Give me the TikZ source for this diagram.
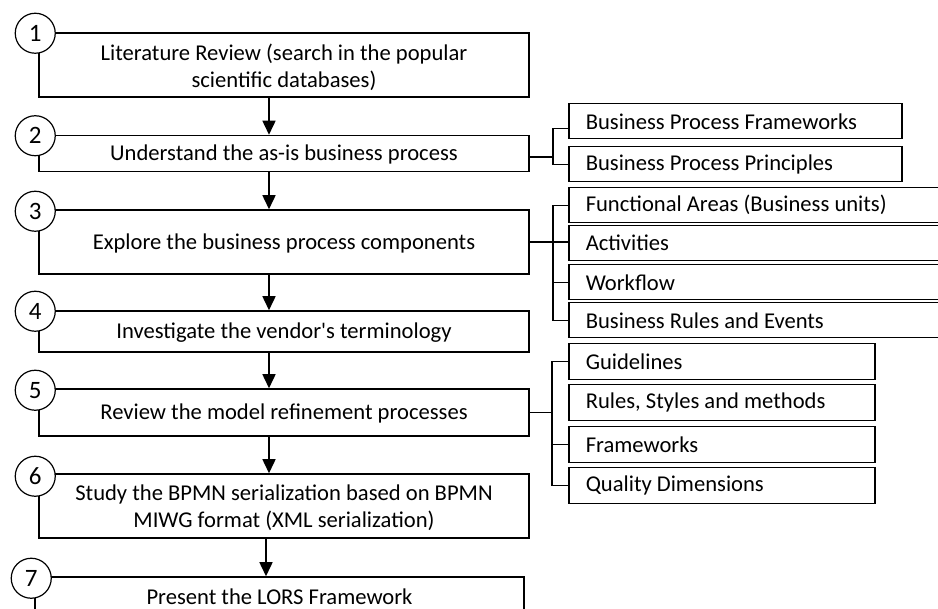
\documentclass[tikz,border=0pt]{standalone}
\usepackage{fontspec}
\setmainfont{Carlito}[Ligatures=TeXOff]
\usetikzlibrary{arrows.meta}

\begin{document}
\begin{tikzpicture}[x=1pt,y=-1pt,
    every node/.style={font=\fontsize{22.6}{27}\selectfont},
    stage/.style={draw,line width=1.5pt,minimum width=490pt,align=center,inner sep=0pt},
    oneline/.style={text height=15pt,text depth=0pt},
    num/.style={draw,circle,fill=white,line width=1.2pt,minimum size=40pt,inner sep=0pt,
      font=\fontsize{25}{27}\selectfont},
    item/.style={draw,line width=1.5pt,anchor=north west,align=flush left,inner xsep=17pt,
      inner ysep=0pt,minimum height=35pt},
    arr/.style={line width=1.5pt,-{Triangle[length=14pt,width=13pt]}},
    link/.style={line width=1.2pt}]
  \useasboundingbox (0,0) rectangle (938,609);
  % main steps
  \draw
    (284,65) node[stage,minimum height=64pt] (s1){\rule{0pt}{22pt}Literature Review (search in the popular\\scientific databases)}
    (284,153.5) node[stage,oneline,minimum height=36pt] (s2){Understand the as-is business process}
    (284,242) node[stage,oneline,minimum height=64pt] (s3){Explore the business process components}
    (284,331.5) node[stage,oneline,minimum height=41pt] (s4){Investigate the vendor's terminology}
    (284,412.5) node[stage,oneline,minimum height=47pt] (s5){Review the model refinement processes}
    (284,506) node[stage,minimum height=64pt] (s6){\rule{0pt}{20pt}Study the BPMN serialization based on BPMN\\MIWG format (XML serialization)}
    (279.5,597.5) node[stage,oneline,minimum height=41pt,minimum width=489pt] (s7){Present the LORS Framework};
  % step numbers
  \node[num] (n1) at ([shift={(-3pt,-1pt)}]s1.north west) {1};
  \node[num] (n2) at ([shift={(-3pt,-1pt)}]s2.north west) {2};
  \node[num] (n3) at ([shift={(-3pt,-2pt)}]s3.north west) {3};
  \node[num] (n4) at ([shift={(-3pt,-1pt)}]s4.north west) {4};
  \node[num] (n5) at ([shift={(-3pt,-2pt)}]s5.north west) {5};
  \node[num] (n6) at ([shift={(-3pt,-3pt)}]s6.north west) {6};
  \node[num] (n7) at ([shift={(-3pt,-2pt)}]s7.north west) {7};
  % sub items
  \draw
    (568,103) node[item,text width=299pt] (bpf){Business Process Frameworks}
    (568,146) node[item,text width=299pt] (bpp){Business Process Principles}
    (568,187) node[item,text width=346pt] (fa){Functional Areas (Business units)}
    (568,225) node[item,text width=346pt] (act){Activities}
    (568,264) node[item,text width=346pt] (wf){Workflow}
    (568,302) node[item,text width=346pt] (bre){Business Rules and Events}
    (568,343) node[item,text width=272pt,minimum height=36pt] (gl){Guidelines}
    (568,384) node[item,text width=272pt,minimum height=36pt] (rsm){Rules, Styles and methods}
    (568,426) node[item,text width=272pt,minimum height=36pt] (fw){Frameworks}
    (568,467) node[item,text width=272pt,minimum height=36pt] (qd){Quality Dimensions};
  \coordinate (j2) at (553,157);
  \coordinate (j3) at (553,242);
  \coordinate (j5) at (552,412.5);
  \begin{scope}[arr]
    \draw ([xshift=-15pt]s1.south) to ([xshift=-15pt]s2.north);
    \draw ([xshift=-15pt]s2.south) to ([xshift=-15pt]s3.north);
    \draw ([xshift=-15pt]s3.south) to ([xshift=-15pt]s4.north);
    \draw ([xshift=-15pt]s4.south) to ([xshift=-15pt]s5.north);
    \draw ([xshift=-15pt]s5.south) to ([xshift=-15pt]s6.north);
    \draw ([xshift=-18pt]s6.south) to ([xshift=-13.5pt]s7.north);
  \end{scope}
  \begin{scope}[link]
    \draw (s2.east|-j2) -- (j2) |- ([yshift=-7pt]bpf.west);
    \draw (j2) |- (bpp.west);
    \draw (s3.east) -- (s3.east-|act.west);
    \draw (j3) |- (fa.west);
    \draw (j3) |- (wf.west);
    \draw (j3) |- (bre.west);
    \draw (s5.east) -- (j5);
    \draw (j5) |- (gl.west);
    \draw (j5) |- (fw.west);
    \draw (j5) |- (qd.west);
  \end{scope}
\end{tikzpicture}
\end{document}
